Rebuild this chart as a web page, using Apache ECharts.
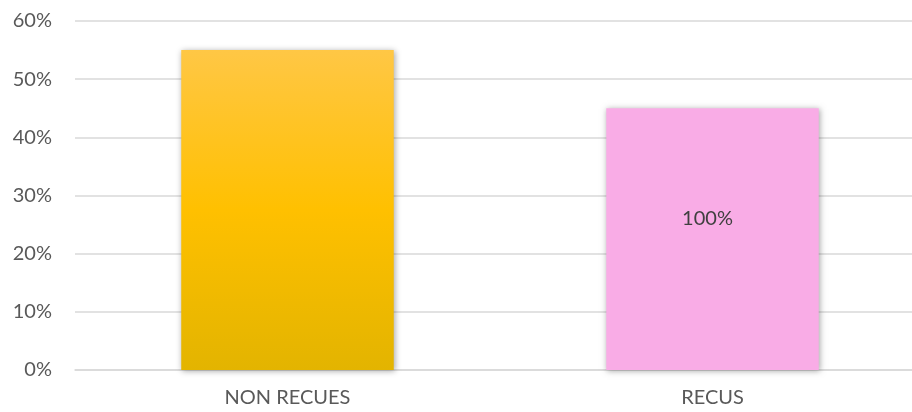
<!DOCTYPE html>
<html><head><meta charset="utf-8">
<script src="https://cdn.jsdelivr.net/npm/echarts@6/dist/echarts.min.js"></script>
<style>html,body{margin:0;padding:0;background:#fff}#c{width:912px;height:412px}</style>
</head><body><div id="c"></div>
<script>
var categories = ['NON RECUES', 'RECUS'];
var values = [55, 45];
var barLabels = ['', '100%'];
var yTicks = [0, 10, 20, 30, 40, 50, 60];

var chart = echarts.init(document.getElementById('c'));
var gold = new echarts.graphic.LinearGradient(0, 0, 0, 1, [
  {offset: 0, color: '#FFC745'},
  {offset: 0.5, color: '#FFC000'},
  {offset: 1, color: '#E3B400'}
]);
var colors = [gold, '#F9ACE6'];
chart.setOption({
  animation: false,
  grid: {left: 75, top: 21, width: 850, bottom: 42, containLabel: false, outerBoundsMode: 'none'},
  xAxis: {
    type: 'category', data: categories,
    axisLine: {lineStyle: {color: '#D9D9D9', width: 1.5}},
    axisTick: {show: false},
    axisLabel: {color: '#595959', fontFamily: 'Lato', fontSize: 20, margin: 18}
  },
  yAxis: {
    type: 'value', min: yTicks[0], max: yTicks[yTicks.length - 1], interval: 10,
    axisLine: {show: false}, axisTick: {show: false},
    splitLine: {lineStyle: {color: '#D9D9D9', width: 1.5}},
    axisLabel: {color: '#595959', fontFamily: 'Lato', fontSize: 20, margin: 23,
      formatter: function (v) { return v + '%'; }}
  },
  series: [{
    type: 'bar', barWidth: '50%',
    data: values.map(function (v, i) {
      return {
        value: v,
        itemStyle: {color: colors[i], shadowBlur: 6, shadowColor: 'rgba(0,0,0,0.35)', shadowOffsetX: 1, shadowOffsetY: 1},
        label: {show: barLabels[i] !== '', formatter: barLabels[i], position: 'inside', offset: [-5, -21],
          color: '#404040', fontFamily: 'Lato', fontSize: 20}
      };
    })
  }]
});
</script></body></html>
